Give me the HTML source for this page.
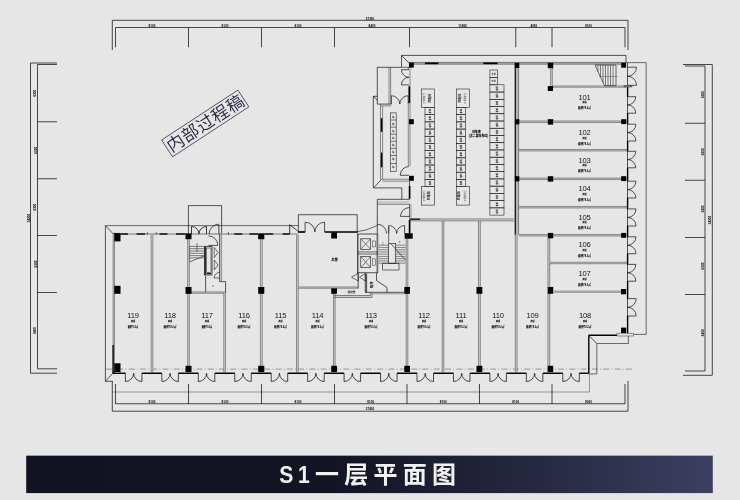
<!DOCTYPE html>
<html lang="zh-CN"><head><meta charset="utf-8"><title>S1一层平面图</title>
<style>
html,body{margin:0;padding:0;background:#e6e6e6;}
body{width:740px;height:500px;overflow:hidden;position:relative;font-family:"Liberation Sans","Noto Sans CJK SC",sans-serif;}
svg{position:absolute;left:0;top:0;display:block;will-change:transform;}
.title .lat{display:inline-block;transform:scaleX(0.88);transform-origin:50% 50%;margin:0 -0.9px;}
.title{position:absolute;left:0;top:455.5px;width:740px;height:37.5px;line-height:37.5px;text-align:center;color:#f2f2f2;font-weight:bold;font-size:24px;letter-spacing:5.2px;font-family:"Liberation Sans","Noto Sans CJK SC",sans-serif;white-space:nowrap;}
</style></head>
<body>
<svg width="740" height="500" viewBox="0 0 740 500">
<line x1="112.30" y1="20.30" x2="628.00" y2="20.30" stroke="#111" stroke-width="0.75" />
<line x1="115.50" y1="27.50" x2="625.00" y2="27.50" stroke="#111" stroke-width="0.75" />
<line x1="112.30" y1="20.30" x2="112.30" y2="50.00" stroke="#111" stroke-width="0.75" />
<line x1="628.00" y1="20.30" x2="628.00" y2="50.00" stroke="#111" stroke-width="0.75" />
<line x1="115.50" y1="27.50" x2="115.50" y2="47.30" stroke="#111" stroke-width="0.75" />
<line x1="188.50" y1="27.50" x2="188.50" y2="47.30" stroke="#111" stroke-width="0.75" />
<line x1="261.50" y1="27.50" x2="261.50" y2="47.30" stroke="#111" stroke-width="0.75" />
<line x1="334.50" y1="27.50" x2="334.50" y2="47.30" stroke="#111" stroke-width="0.75" />
<line x1="409.50" y1="27.50" x2="409.50" y2="47.30" stroke="#111" stroke-width="0.75" />
<line x1="515.75" y1="27.50" x2="515.75" y2="47.30" stroke="#111" stroke-width="0.75" />
<line x1="552.00" y1="27.50" x2="552.00" y2="47.30" stroke="#111" stroke-width="0.75" />
<line x1="625.00" y1="27.50" x2="625.00" y2="47.30" stroke="#111" stroke-width="0.75" />
<text x="152.00" y="27.00" font-size="3.9" text-anchor="middle" font-weight="bold" fill="#000" font-family='"Liberation Sans", "Noto Sans CJK SC", sans-serif' textLength="6.8" lengthAdjust="spacingAndGlyphs">8100</text>
<text x="225.00" y="27.00" font-size="3.9" text-anchor="middle" font-weight="bold" fill="#000" font-family='"Liberation Sans", "Noto Sans CJK SC", sans-serif' textLength="6.8" lengthAdjust="spacingAndGlyphs">8100</text>
<text x="298.00" y="27.00" font-size="3.9" text-anchor="middle" font-weight="bold" fill="#000" font-family='"Liberation Sans", "Noto Sans CJK SC", sans-serif' textLength="6.8" lengthAdjust="spacingAndGlyphs">8100</text>
<text x="372.00" y="27.00" font-size="3.9" text-anchor="middle" font-weight="bold" fill="#000" font-family='"Liberation Sans", "Noto Sans CJK SC", sans-serif' textLength="6.8" lengthAdjust="spacingAndGlyphs">8400</text>
<text x="462.62" y="27.00" font-size="3.9" text-anchor="middle" font-weight="bold" fill="#000" font-family='"Liberation Sans", "Noto Sans CJK SC", sans-serif' textLength="8.5" lengthAdjust="spacingAndGlyphs">11800</text>
<text x="533.88" y="27.00" font-size="3.9" text-anchor="middle" font-weight="bold" fill="#000" font-family='"Liberation Sans", "Noto Sans CJK SC", sans-serif' textLength="6.8" lengthAdjust="spacingAndGlyphs">4050</text>
<text x="588.50" y="27.00" font-size="3.9" text-anchor="middle" font-weight="bold" fill="#000" font-family='"Liberation Sans", "Noto Sans CJK SC", sans-serif' textLength="6.8" lengthAdjust="spacingAndGlyphs">8100</text>
<text x="370.00" y="19.70" font-size="3.9" text-anchor="middle" font-weight="bold" fill="#000" font-family='"Liberation Sans", "Noto Sans CJK SC", sans-serif' textLength="8.5" lengthAdjust="spacingAndGlyphs">57350</text>
<line x1="112.30" y1="392.00" x2="589.50" y2="392.00" stroke="#444" stroke-width="0.5" />
<line x1="589.50" y1="374.00" x2="589.50" y2="392.00" stroke="#444" stroke-width="0.5" />
<line x1="115.50" y1="403.75" x2="625.00" y2="403.75" stroke="#111" stroke-width="0.75" />
<line x1="112.30" y1="411.20" x2="628.00" y2="411.20" stroke="#111" stroke-width="0.75" />
<line x1="112.30" y1="381.00" x2="112.30" y2="411.20" stroke="#111" stroke-width="0.75" />
<line x1="628.00" y1="381.00" x2="628.00" y2="411.20" stroke="#111" stroke-width="0.75" />
<line x1="115.50" y1="384.00" x2="115.50" y2="404.00" stroke="#111" stroke-width="0.75" />
<line x1="188.50" y1="384.00" x2="188.50" y2="404.00" stroke="#111" stroke-width="0.75" />
<line x1="261.50" y1="384.00" x2="261.50" y2="404.00" stroke="#111" stroke-width="0.75" />
<line x1="334.50" y1="384.00" x2="334.50" y2="404.00" stroke="#111" stroke-width="0.75" />
<line x1="407.00" y1="384.00" x2="407.00" y2="404.00" stroke="#111" stroke-width="0.75" />
<line x1="479.50" y1="384.00" x2="479.50" y2="404.00" stroke="#111" stroke-width="0.75" />
<line x1="552.00" y1="384.00" x2="552.00" y2="404.00" stroke="#111" stroke-width="0.75" />
<line x1="625.00" y1="384.00" x2="625.00" y2="404.00" stroke="#111" stroke-width="0.75" />
<text x="152.00" y="402.80" font-size="3.9" text-anchor="middle" font-weight="bold" fill="#000" font-family='"Liberation Sans", "Noto Sans CJK SC", sans-serif' textLength="6.8" lengthAdjust="spacingAndGlyphs">8100</text>
<text x="225.00" y="402.80" font-size="3.9" text-anchor="middle" font-weight="bold" fill="#000" font-family='"Liberation Sans", "Noto Sans CJK SC", sans-serif' textLength="6.8" lengthAdjust="spacingAndGlyphs">8100</text>
<text x="298.00" y="402.80" font-size="3.9" text-anchor="middle" font-weight="bold" fill="#000" font-family='"Liberation Sans", "Noto Sans CJK SC", sans-serif' textLength="6.8" lengthAdjust="spacingAndGlyphs">8100</text>
<text x="370.75" y="402.80" font-size="3.9" text-anchor="middle" font-weight="bold" fill="#000" font-family='"Liberation Sans", "Noto Sans CJK SC", sans-serif' textLength="6.8" lengthAdjust="spacingAndGlyphs">8100</text>
<text x="443.25" y="402.80" font-size="3.9" text-anchor="middle" font-weight="bold" fill="#000" font-family='"Liberation Sans", "Noto Sans CJK SC", sans-serif' textLength="6.8" lengthAdjust="spacingAndGlyphs">8100</text>
<text x="515.75" y="402.80" font-size="3.9" text-anchor="middle" font-weight="bold" fill="#000" font-family='"Liberation Sans", "Noto Sans CJK SC", sans-serif' textLength="6.8" lengthAdjust="spacingAndGlyphs">8100</text>
<text x="588.50" y="402.80" font-size="3.9" text-anchor="middle" font-weight="bold" fill="#000" font-family='"Liberation Sans", "Noto Sans CJK SC", sans-serif' textLength="6.8" lengthAdjust="spacingAndGlyphs">8000</text>
<text x="370.00" y="410.30" font-size="3.9" text-anchor="middle" font-weight="bold" fill="#000" font-family='"Liberation Sans", "Noto Sans CJK SC", sans-serif' textLength="8.5" lengthAdjust="spacingAndGlyphs">57400</text>
<line x1="30.50" y1="63.00" x2="30.50" y2="373.20" stroke="#111" stroke-width="0.75" />
<line x1="37.50" y1="64.50" x2="37.50" y2="368.80" stroke="#111" stroke-width="0.75" />
<line x1="30.50" y1="63.00" x2="57.00" y2="63.00" stroke="#111" stroke-width="0.75" />
<line x1="30.50" y1="373.20" x2="57.00" y2="373.20" stroke="#111" stroke-width="0.75" />
<line x1="37.50" y1="64.50" x2="57.00" y2="64.50" stroke="#111" stroke-width="0.75" />
<line x1="37.50" y1="121.75" x2="57.00" y2="121.75" stroke="#111" stroke-width="0.75" />
<line x1="37.50" y1="178.75" x2="57.00" y2="178.75" stroke="#111" stroke-width="0.75" />
<line x1="37.50" y1="235.50" x2="57.00" y2="235.50" stroke="#111" stroke-width="0.75" />
<line x1="37.50" y1="292.50" x2="57.00" y2="292.50" stroke="#111" stroke-width="0.75" />
<line x1="37.50" y1="368.80" x2="57.00" y2="368.80" stroke="#111" stroke-width="0.75" />
<text x="36.50" y="93.12" font-size="3.9" text-anchor="middle" font-weight="bold" fill="#000" font-family='"Liberation Sans", "Noto Sans CJK SC", sans-serif' transform="rotate(-90 36.50 93.12)" textLength="6.8" lengthAdjust="spacingAndGlyphs">6300</text>
<text x="36.50" y="150.25" font-size="3.9" text-anchor="middle" font-weight="bold" fill="#000" font-family='"Liberation Sans", "Noto Sans CJK SC", sans-serif' transform="rotate(-90 36.50 150.25)" textLength="6.8" lengthAdjust="spacingAndGlyphs">6300</text>
<text x="36.50" y="207.12" font-size="3.9" text-anchor="middle" font-weight="bold" fill="#000" font-family='"Liberation Sans", "Noto Sans CJK SC", sans-serif' transform="rotate(-90 36.50 207.12)" textLength="6.8" lengthAdjust="spacingAndGlyphs">6300</text>
<text x="36.50" y="264.00" font-size="3.9" text-anchor="middle" font-weight="bold" fill="#000" font-family='"Liberation Sans", "Noto Sans CJK SC", sans-serif' transform="rotate(-90 36.50 264.00)" textLength="6.8" lengthAdjust="spacingAndGlyphs">6300</text>
<text x="36.50" y="330.65" font-size="3.9" text-anchor="middle" font-weight="bold" fill="#000" font-family='"Liberation Sans", "Noto Sans CJK SC", sans-serif' transform="rotate(-90 36.50 330.65)" textLength="6.8" lengthAdjust="spacingAndGlyphs">8400</text>
<text x="29.50" y="218.00" font-size="3.9" text-anchor="middle" font-weight="bold" fill="#000" font-family='"Liberation Sans", "Noto Sans CJK SC", sans-serif' transform="rotate(-90 29.50 218.00)" textLength="8.5" lengthAdjust="spacingAndGlyphs">34200</text>
<line x1="712.30" y1="64.50" x2="712.30" y2="375.30" stroke="#111" stroke-width="0.75" />
<line x1="705.00" y1="66.00" x2="705.00" y2="371.00" stroke="#111" stroke-width="0.75" />
<line x1="683.00" y1="64.50" x2="712.30" y2="64.50" stroke="#111" stroke-width="0.75" />
<line x1="683.00" y1="375.30" x2="712.30" y2="375.30" stroke="#111" stroke-width="0.75" />
<line x1="685.00" y1="66.00" x2="705.00" y2="66.00" stroke="#111" stroke-width="0.75" />
<line x1="685.00" y1="123.25" x2="705.00" y2="123.25" stroke="#111" stroke-width="0.75" />
<line x1="685.00" y1="180.25" x2="705.00" y2="180.25" stroke="#111" stroke-width="0.75" />
<line x1="685.00" y1="237.50" x2="705.00" y2="237.50" stroke="#111" stroke-width="0.75" />
<line x1="685.00" y1="294.50" x2="705.00" y2="294.50" stroke="#111" stroke-width="0.75" />
<line x1="685.00" y1="371.00" x2="705.00" y2="371.00" stroke="#111" stroke-width="0.75" />
<text x="704.00" y="94.62" font-size="3.9" text-anchor="middle" font-weight="bold" fill="#000" font-family='"Liberation Sans", "Noto Sans CJK SC", sans-serif' transform="rotate(-90 704.00 94.62)" textLength="6.8" lengthAdjust="spacingAndGlyphs">6300</text>
<text x="704.00" y="151.75" font-size="3.9" text-anchor="middle" font-weight="bold" fill="#000" font-family='"Liberation Sans", "Noto Sans CJK SC", sans-serif' transform="rotate(-90 704.00 151.75)" textLength="6.8" lengthAdjust="spacingAndGlyphs">6300</text>
<text x="704.00" y="208.88" font-size="3.9" text-anchor="middle" font-weight="bold" fill="#000" font-family='"Liberation Sans", "Noto Sans CJK SC", sans-serif' transform="rotate(-90 704.00 208.88)" textLength="6.8" lengthAdjust="spacingAndGlyphs">6300</text>
<text x="704.00" y="266.00" font-size="3.9" text-anchor="middle" font-weight="bold" fill="#000" font-family='"Liberation Sans", "Noto Sans CJK SC", sans-serif' transform="rotate(-90 704.00 266.00)" textLength="6.8" lengthAdjust="spacingAndGlyphs">6300</text>
<text x="704.00" y="332.75" font-size="3.9" text-anchor="middle" font-weight="bold" fill="#000" font-family='"Liberation Sans", "Noto Sans CJK SC", sans-serif' transform="rotate(-90 704.00 332.75)" textLength="6.8" lengthAdjust="spacingAndGlyphs">8400</text>
<text x="711.30" y="220.00" font-size="3.9" text-anchor="middle" font-weight="bold" fill="#000" font-family='"Liberation Sans", "Noto Sans CJK SC", sans-serif' transform="rotate(-90 711.30 220.00)" textLength="8.5" lengthAdjust="spacingAndGlyphs">34200</text>
<g transform="translate(205.25,123.45) rotate(-33.2)">
<rect x="-45.60" y="-10.00" width="91.20" height="20.00" fill="none" stroke="#2a2b48" stroke-width="0.7"/>
<text x="0.30" y="6.10" font-size="17.2" text-anchor="middle" font-weight="350" fill="#1f2040" font-family='"Liberation Sans", "Noto Sans CJK SC", sans-serif' letter-spacing="0.6" >内部过程稿</text>
</g>
<line x1="105.40" y1="225.60" x2="105.40" y2="381.30" stroke="#111" stroke-width="0.7" />
<line x1="105.40" y1="381.30" x2="112.50" y2="381.30" stroke="#111" stroke-width="0.7" />
<line x1="105.40" y1="381.30" x2="112.50" y2="373.50" stroke="#111" stroke-width="0.7" />
<line x1="105.40" y1="225.60" x2="298.40" y2="225.60" stroke="#333" stroke-width="0.7" />
<line x1="105.40" y1="225.60" x2="113.00" y2="233.70" stroke="#111" stroke-width="0.7" />
<path d="M188.40 233.70 L188.40 205.60 L221.60 205.60 L221.60 233.70" fill="none" stroke="#111" stroke-width="0.7"/>
<path d="M298.40 233.00 L298.40 214.70 L357.20 214.70 L357.20 233.00" fill="none" stroke="#111" stroke-width="0.7"/>
<line x1="113.00" y1="234.00" x2="298.00" y2="234.00" stroke="#9a9a9a" stroke-width="1.5" />
<line x1="120.30" y1="234.00" x2="128.00" y2="234.00" stroke="#000" stroke-width="1.35" />
<line x1="136.50" y1="234.00" x2="145.00" y2="234.00" stroke="#000" stroke-width="1.35" />
<line x1="159.50" y1="234.00" x2="167.50" y2="234.00" stroke="#000" stroke-width="1.35" />
<line x1="176.00" y1="234.00" x2="185.50" y2="234.00" stroke="#000" stroke-width="1.35" />
<line x1="234.30" y1="234.00" x2="242.40" y2="234.00" stroke="#000" stroke-width="1.35" />
<line x1="249.40" y1="234.00" x2="258.00" y2="234.00" stroke="#000" stroke-width="1.35" />
<line x1="264.30" y1="234.00" x2="273.20" y2="234.00" stroke="#000" stroke-width="1.35" />
<line x1="282.50" y1="234.00" x2="289.70" y2="234.00" stroke="#000" stroke-width="1.35" />
<line x1="147.30" y1="232.30" x2="147.30" y2="234.50" stroke="#111" stroke-width="0.7" />
<line x1="156.20" y1="232.30" x2="156.20" y2="234.50" stroke="#111" stroke-width="0.7" />
<line x1="228.30" y1="232.30" x2="228.30" y2="234.50" stroke="#111" stroke-width="0.7" />
<line x1="113.00" y1="233.40" x2="120.00" y2="233.40" stroke="#111" stroke-width="0.8" />
<line x1="298.40" y1="232.00" x2="305.10" y2="232.00" stroke="#000" stroke-width="1.7" />
<line x1="324.60" y1="232.00" x2="357.40" y2="232.00" stroke="#000" stroke-width="1.7" />
<line x1="305.10" y1="232.00" x2="305.10" y2="222.25" stroke="#111" stroke-width="0.7" />
<line x1="324.60" y1="232.00" x2="324.60" y2="222.25" stroke="#111" stroke-width="0.7" />
<path d="M305.10 222.25 A9.75 9.75 0 0 1 314.85 232.00" fill="none" stroke="#111" stroke-width="0.7"/>
<path d="M324.60 222.25 A9.75 9.75 0 0 0 314.85 232.00" fill="none" stroke="#111" stroke-width="0.7"/>
<line x1="289.70" y1="224.70" x2="289.70" y2="234.00" stroke="#111" stroke-width="0.8" />
<line x1="289.70" y1="224.70" x2="298.40" y2="231.50" stroke="#111" stroke-width="0.8" />
<line x1="191.50" y1="234.00" x2="191.50" y2="226.50" stroke="#111" stroke-width="0.8" />
<line x1="206.50" y1="234.00" x2="206.50" y2="226.50" stroke="#111" stroke-width="0.8" />
<path d="M191.50 226.50 A7.50 7.50 0 0 1 199.00 234.00" fill="none" stroke="#111" stroke-width="0.8"/>
<path d="M206.50 226.50 A7.50 7.50 0 0 0 199.00 234.00" fill="none" stroke="#111" stroke-width="0.8"/>
<line x1="218.90" y1="224.50" x2="218.90" y2="234.00" stroke="#111" stroke-width="0.8" />
<path d="M218.90 224.20 A9.80 9.80 0 0 0 209.10 234.00" fill="none" stroke="#111" stroke-width="0.7"/>
<line x1="208.30" y1="245.40" x2="217.80" y2="245.40" stroke="#111" stroke-width="0.7" />
<path d="M208.50 235.90 A9.30 9.30 0 0 1 217.80 245.20" fill="none" stroke="#111" stroke-width="0.7"/>
<line x1="189.60" y1="246.40" x2="204.20" y2="246.40" stroke="#111" stroke-width="0.5" />
<line x1="189.60" y1="248.70" x2="204.20" y2="248.70" stroke="#111" stroke-width="0.5" />
<line x1="189.60" y1="251.00" x2="204.20" y2="251.00" stroke="#111" stroke-width="0.5" />
<line x1="189.60" y1="253.30" x2="204.20" y2="253.30" stroke="#111" stroke-width="0.5" />
<line x1="189.60" y1="255.60" x2="204.20" y2="255.60" stroke="#111" stroke-width="0.5" />
<line x1="189.60" y1="257.90" x2="204.20" y2="257.90" stroke="#111" stroke-width="0.5" />
<line x1="189.60" y1="262.00" x2="204.20" y2="255.80" stroke="#111" stroke-width="0.6" />
<line x1="189.60" y1="246.00" x2="189.60" y2="262.00" stroke="#111" stroke-width="0.5" />
<line x1="197.00" y1="243.00" x2="197.00" y2="252.00" stroke="#111" stroke-width="0.5" />
<rect x="204.60" y="246.40" width="7.40" height="28.60" fill="none" stroke="#111" stroke-width="0.7"/>
<line x1="205.20" y1="246.40" x2="205.20" y2="275.00" stroke="#111" stroke-width="1.3" />
<rect x="206.60" y="248.00" width="4.40" height="24.50" fill="none" stroke="#111" stroke-width="0.5"/>
<line x1="206.60" y1="273.60" x2="211.00" y2="273.60" stroke="#111" stroke-width="1.2" />
<path d="M214.20 247.50 L218.00 252.50 L214.20 257.50" fill="none" stroke="#111" stroke-width="0.6"/>
<line x1="214.20" y1="247.50" x2="214.20" y2="257.50" stroke="#111" stroke-width="0.5" />
<path d="M214.20 260.00 L218.00 265.00 L214.20 270.00" fill="none" stroke="#111" stroke-width="0.6"/>
<line x1="214.20" y1="260.00" x2="214.20" y2="270.00" stroke="#111" stroke-width="0.5" />
<path d="M214.10 278.00 A5.50 5.50 0 0 1 219.60 272.50" fill="none" stroke="#111" stroke-width="0.6"/>
<line x1="214.10" y1="278.00" x2="219.60" y2="278.00" stroke="#111" stroke-width="0.6" />
<path d="M219.60 234.00 L219.60 281.60 L225.60 281.60 L225.60 293.00" fill="none" stroke="#111" stroke-width="0.7"/>
<line x1="221.60" y1="234.00" x2="221.60" y2="281.00" stroke="#444" stroke-width="0.6" />
<line x1="220.60" y1="234.50" x2="220.60" y2="281.00" stroke="#bdbdbd" stroke-width="1.2" />
<path d="M205.60 276.00 L205.60 292.00" fill="none" stroke="#111" stroke-width="0.7"/>
<circle cx="213" cy="286" r="0.6" fill="#111"/>
<line x1="188.50" y1="292.60" x2="225.60" y2="292.60" stroke="#cdcdcd" stroke-width="1.36" />
<line x1="188.50" y1="291.92" x2="225.60" y2="291.92" stroke="#3a3a3a" stroke-width="0.5" />
<line x1="188.50" y1="293.28" x2="225.60" y2="293.28" stroke="#3a3a3a" stroke-width="0.5" />
<line x1="113.80" y1="234.00" x2="113.80" y2="373.00" stroke="#cdcdcd" stroke-width="1.36" />
<line x1="113.12" y1="234.00" x2="113.12" y2="373.00" stroke="#3a3a3a" stroke-width="0.5" />
<line x1="114.48" y1="234.00" x2="114.48" y2="373.00" stroke="#3a3a3a" stroke-width="0.5" />
<line x1="113.10" y1="345.00" x2="113.10" y2="373.00" stroke="#000" stroke-width="1.3" />
<line x1="106.00" y1="369.10" x2="633.50" y2="369.10" stroke="#959595" stroke-width="1.0" stroke-dasharray="6 2.2 0.9 2.2"/>
<line x1="152.00" y1="235.00" x2="152.00" y2="372.50" stroke="#a4a4a4" stroke-width="3.0" />
<line x1="188.50" y1="239.00" x2="188.50" y2="372.50" stroke="#cdcdcd" stroke-width="1.7" />
<line x1="187.65" y1="239.00" x2="187.65" y2="372.50" stroke="#3a3a3a" stroke-width="0.5" />
<line x1="189.35" y1="239.00" x2="189.35" y2="372.50" stroke="#3a3a3a" stroke-width="0.5" />
<line x1="224.60" y1="293.00" x2="224.60" y2="372.50" stroke="#cdcdcd" stroke-width="1.7" />
<line x1="223.75" y1="293.00" x2="223.75" y2="372.50" stroke="#3a3a3a" stroke-width="0.5" />
<line x1="225.45" y1="293.00" x2="225.45" y2="372.50" stroke="#3a3a3a" stroke-width="0.5" />
<line x1="261.30" y1="239.00" x2="261.30" y2="372.50" stroke="#cdcdcd" stroke-width="1.87" />
<line x1="260.37" y1="239.00" x2="260.37" y2="372.50" stroke="#3a3a3a" stroke-width="0.5" />
<line x1="262.24" y1="239.00" x2="262.24" y2="372.50" stroke="#3a3a3a" stroke-width="0.5" />
<line x1="297.40" y1="235.00" x2="297.40" y2="372.50" stroke="#cdcdcd" stroke-width="1.7" />
<line x1="296.55" y1="235.00" x2="296.55" y2="372.50" stroke="#3a3a3a" stroke-width="0.5" />
<line x1="298.25" y1="235.00" x2="298.25" y2="372.50" stroke="#3a3a3a" stroke-width="0.5" />
<line x1="334.30" y1="293.50" x2="334.30" y2="372.50" stroke="#cdcdcd" stroke-width="1.7" />
<line x1="333.45" y1="293.50" x2="333.45" y2="372.50" stroke="#3a3a3a" stroke-width="0.5" />
<line x1="335.15" y1="293.50" x2="335.15" y2="372.50" stroke="#3a3a3a" stroke-width="0.5" />
<line x1="407.00" y1="239.00" x2="407.00" y2="372.50" stroke="#cdcdcd" stroke-width="1.7" />
<line x1="406.15" y1="239.00" x2="406.15" y2="372.50" stroke="#3a3a3a" stroke-width="0.5" />
<line x1="407.85" y1="239.00" x2="407.85" y2="372.50" stroke="#3a3a3a" stroke-width="0.5" />
<line x1="443.00" y1="220.00" x2="443.00" y2="372.50" stroke="#cdcdcd" stroke-width="1.7" />
<line x1="442.15" y1="220.00" x2="442.15" y2="372.50" stroke="#3a3a3a" stroke-width="0.5" />
<line x1="443.85" y1="220.00" x2="443.85" y2="372.50" stroke="#3a3a3a" stroke-width="0.5" />
<line x1="479.40" y1="220.00" x2="479.40" y2="372.50" stroke="#cdcdcd" stroke-width="1.87" />
<line x1="478.46" y1="220.00" x2="478.46" y2="372.50" stroke="#3a3a3a" stroke-width="0.5" />
<line x1="480.33" y1="220.00" x2="480.33" y2="372.50" stroke="#3a3a3a" stroke-width="0.5" />
<line x1="516.20" y1="235.00" x2="516.20" y2="372.50" stroke="#cdcdcd" stroke-width="1.87" />
<line x1="515.27" y1="235.00" x2="515.27" y2="372.50" stroke="#3a3a3a" stroke-width="0.5" />
<line x1="517.13" y1="235.00" x2="517.13" y2="372.50" stroke="#3a3a3a" stroke-width="0.5" />
<line x1="548.80" y1="238.00" x2="548.80" y2="372.50" stroke="#cdcdcd" stroke-width="1.87" />
<line x1="547.87" y1="238.00" x2="547.87" y2="372.50" stroke="#3a3a3a" stroke-width="0.5" />
<line x1="549.73" y1="238.00" x2="549.73" y2="372.50" stroke="#3a3a3a" stroke-width="0.5" />
<line x1="112.50" y1="373.25" x2="125.40" y2="373.25" stroke="#000" stroke-width="1.45" />
<line x1="125.40" y1="373.25" x2="125.40" y2="381.50" stroke="#111" stroke-width="0.75" />
<line x1="141.90" y1="373.25" x2="141.90" y2="381.50" stroke="#111" stroke-width="0.75" />
<path d="M125.40 381.50 A8.25 8.25 0 0 0 133.65 373.25" fill="none" stroke="#111" stroke-width="0.75"/>
<path d="M141.90 381.50 A8.25 8.25 0 0 1 133.65 373.25" fill="none" stroke="#111" stroke-width="0.75"/>
<line x1="141.90" y1="373.25" x2="161.85" y2="373.25" stroke="#000" stroke-width="1.45" />
<line x1="161.85" y1="373.25" x2="161.85" y2="381.50" stroke="#111" stroke-width="0.75" />
<line x1="178.35" y1="373.25" x2="178.35" y2="381.50" stroke="#111" stroke-width="0.75" />
<path d="M161.85 381.50 A8.25 8.25 0 0 0 170.10 373.25" fill="none" stroke="#111" stroke-width="0.75"/>
<path d="M178.35 381.50 A8.25 8.25 0 0 1 170.10 373.25" fill="none" stroke="#111" stroke-width="0.75"/>
<line x1="178.35" y1="373.25" x2="198.30" y2="373.25" stroke="#000" stroke-width="1.45" />
<line x1="198.30" y1="373.25" x2="198.30" y2="381.50" stroke="#111" stroke-width="0.75" />
<line x1="214.80" y1="373.25" x2="214.80" y2="381.50" stroke="#111" stroke-width="0.75" />
<path d="M198.30 381.50 A8.25 8.25 0 0 0 206.55 373.25" fill="none" stroke="#111" stroke-width="0.75"/>
<path d="M214.80 381.50 A8.25 8.25 0 0 1 206.55 373.25" fill="none" stroke="#111" stroke-width="0.75"/>
<line x1="214.80" y1="373.25" x2="234.75" y2="373.25" stroke="#000" stroke-width="1.45" />
<line x1="234.75" y1="373.25" x2="234.75" y2="381.50" stroke="#111" stroke-width="0.75" />
<line x1="251.25" y1="373.25" x2="251.25" y2="381.50" stroke="#111" stroke-width="0.75" />
<path d="M234.75 381.50 A8.25 8.25 0 0 0 243.00 373.25" fill="none" stroke="#111" stroke-width="0.75"/>
<path d="M251.25 381.50 A8.25 8.25 0 0 1 243.00 373.25" fill="none" stroke="#111" stroke-width="0.75"/>
<line x1="251.25" y1="373.25" x2="271.20" y2="373.25" stroke="#000" stroke-width="1.45" />
<line x1="271.20" y1="373.25" x2="271.20" y2="381.50" stroke="#111" stroke-width="0.75" />
<line x1="287.70" y1="373.25" x2="287.70" y2="381.50" stroke="#111" stroke-width="0.75" />
<path d="M271.20 381.50 A8.25 8.25 0 0 0 279.45 373.25" fill="none" stroke="#111" stroke-width="0.75"/>
<path d="M287.70 381.50 A8.25 8.25 0 0 1 279.45 373.25" fill="none" stroke="#111" stroke-width="0.75"/>
<line x1="287.70" y1="373.25" x2="307.65" y2="373.25" stroke="#000" stroke-width="1.45" />
<line x1="307.65" y1="373.25" x2="307.65" y2="381.50" stroke="#111" stroke-width="0.75" />
<line x1="324.15" y1="373.25" x2="324.15" y2="381.50" stroke="#111" stroke-width="0.75" />
<path d="M307.65 381.50 A8.25 8.25 0 0 0 315.90 373.25" fill="none" stroke="#111" stroke-width="0.75"/>
<path d="M324.15 381.50 A8.25 8.25 0 0 1 315.90 373.25" fill="none" stroke="#111" stroke-width="0.75"/>
<line x1="324.15" y1="373.25" x2="344.10" y2="373.25" stroke="#000" stroke-width="1.45" />
<line x1="344.10" y1="373.25" x2="344.10" y2="381.50" stroke="#111" stroke-width="0.75" />
<line x1="360.60" y1="373.25" x2="360.60" y2="381.50" stroke="#111" stroke-width="0.75" />
<path d="M344.10 381.50 A8.25 8.25 0 0 0 352.35 373.25" fill="none" stroke="#111" stroke-width="0.75"/>
<path d="M360.60 381.50 A8.25 8.25 0 0 1 352.35 373.25" fill="none" stroke="#111" stroke-width="0.75"/>
<line x1="360.60" y1="373.25" x2="380.55" y2="373.25" stroke="#000" stroke-width="1.45" />
<line x1="380.55" y1="373.25" x2="380.55" y2="381.50" stroke="#111" stroke-width="0.75" />
<line x1="397.05" y1="373.25" x2="397.05" y2="381.50" stroke="#111" stroke-width="0.75" />
<path d="M380.55 381.50 A8.25 8.25 0 0 0 388.80 373.25" fill="none" stroke="#111" stroke-width="0.75"/>
<path d="M397.05 381.50 A8.25 8.25 0 0 1 388.80 373.25" fill="none" stroke="#111" stroke-width="0.75"/>
<line x1="397.05" y1="373.25" x2="417.00" y2="373.25" stroke="#000" stroke-width="1.45" />
<line x1="417.00" y1="373.25" x2="417.00" y2="381.50" stroke="#111" stroke-width="0.75" />
<line x1="433.50" y1="373.25" x2="433.50" y2="381.50" stroke="#111" stroke-width="0.75" />
<path d="M417.00 381.50 A8.25 8.25 0 0 0 425.25 373.25" fill="none" stroke="#111" stroke-width="0.75"/>
<path d="M433.50 381.50 A8.25 8.25 0 0 1 425.25 373.25" fill="none" stroke="#111" stroke-width="0.75"/>
<line x1="433.50" y1="373.25" x2="453.45" y2="373.25" stroke="#000" stroke-width="1.45" />
<line x1="453.45" y1="373.25" x2="453.45" y2="381.50" stroke="#111" stroke-width="0.75" />
<line x1="469.95" y1="373.25" x2="469.95" y2="381.50" stroke="#111" stroke-width="0.75" />
<path d="M453.45 381.50 A8.25 8.25 0 0 0 461.70 373.25" fill="none" stroke="#111" stroke-width="0.75"/>
<path d="M469.95 381.50 A8.25 8.25 0 0 1 461.70 373.25" fill="none" stroke="#111" stroke-width="0.75"/>
<line x1="469.95" y1="373.25" x2="489.90" y2="373.25" stroke="#000" stroke-width="1.45" />
<line x1="489.90" y1="373.25" x2="489.90" y2="381.50" stroke="#111" stroke-width="0.75" />
<line x1="506.40" y1="373.25" x2="506.40" y2="381.50" stroke="#111" stroke-width="0.75" />
<path d="M489.90 381.50 A8.25 8.25 0 0 0 498.15 373.25" fill="none" stroke="#111" stroke-width="0.75"/>
<path d="M506.40 381.50 A8.25 8.25 0 0 1 498.15 373.25" fill="none" stroke="#111" stroke-width="0.75"/>
<line x1="506.40" y1="373.25" x2="526.35" y2="373.25" stroke="#000" stroke-width="1.45" />
<line x1="526.35" y1="373.25" x2="526.35" y2="381.50" stroke="#111" stroke-width="0.75" />
<line x1="542.85" y1="373.25" x2="542.85" y2="381.50" stroke="#111" stroke-width="0.75" />
<path d="M526.35 381.50 A8.25 8.25 0 0 0 534.60 373.25" fill="none" stroke="#111" stroke-width="0.75"/>
<path d="M542.85 381.50 A8.25 8.25 0 0 1 534.60 373.25" fill="none" stroke="#111" stroke-width="0.75"/>
<line x1="542.85" y1="373.25" x2="562.80" y2="373.25" stroke="#000" stroke-width="1.45" />
<line x1="562.80" y1="373.25" x2="562.80" y2="381.50" stroke="#111" stroke-width="0.75" />
<line x1="579.30" y1="373.25" x2="579.30" y2="381.50" stroke="#111" stroke-width="0.75" />
<path d="M562.80 381.50 A8.25 8.25 0 0 0 571.05 373.25" fill="none" stroke="#111" stroke-width="0.75"/>
<path d="M579.30 381.50 A8.25 8.25 0 0 1 571.05 373.25" fill="none" stroke="#111" stroke-width="0.75"/>
<line x1="579.30" y1="373.25" x2="588.60" y2="373.25" stroke="#000" stroke-width="1.45" />
<rect x="114.30" y="363.30" width="6.20" height="8.70" fill="#000"/>
<rect x="185.50" y="365.80" width="6.00" height="6.20" fill="#000"/>
<rect x="258.20" y="365.80" width="6.10" height="6.20" fill="#000"/>
<rect x="331.20" y="365.80" width="5.80" height="6.20" fill="#000"/>
<rect x="404.30" y="365.80" width="5.70" height="6.20" fill="#000"/>
<rect x="476.50" y="365.80" width="5.80" height="6.20" fill="#000"/>
<rect x="547.80" y="365.80" width="5.40" height="6.20" fill="#000"/>
<rect x="114.30" y="285.80" width="6.20" height="8.00" fill="#000"/>
<rect x="185.50" y="287.00" width="6.00" height="6.80" fill="#000"/>
<rect x="258.20" y="287.00" width="6.10" height="6.80" fill="#000"/>
<rect x="331.20" y="287.00" width="5.80" height="6.80" fill="#000"/>
<rect x="404.30" y="287.00" width="5.70" height="6.80" fill="#000"/>
<rect x="476.50" y="287.00" width="5.80" height="6.80" fill="#000"/>
<rect x="547.80" y="287.00" width="5.40" height="6.80" fill="#000"/>
<rect x="114.30" y="233.40" width="6.20" height="8.00" fill="#000"/>
<rect x="185.50" y="233.40" width="6.00" height="5.80" fill="#000"/>
<rect x="258.20" y="233.40" width="6.10" height="5.80" fill="#000"/>
<rect x="331.20" y="232.40" width="5.80" height="6.10" fill="#000"/>
<rect x="404.60" y="233.20" width="8.10" height="5.50" fill="#000"/>
<line x1="401.50" y1="55.40" x2="626.00" y2="55.40" stroke="#111" stroke-width="0.7" />
<line x1="626.00" y1="55.40" x2="626.00" y2="63.00" stroke="#111" stroke-width="0.7" />
<line x1="401.50" y1="55.40" x2="409.00" y2="63.00" stroke="#111" stroke-width="0.7" />
<line x1="401.50" y1="55.40" x2="401.50" y2="67.30" stroke="#111" stroke-width="0.7" />
<line x1="409.00" y1="63.30" x2="626.00" y2="63.30" stroke="#a8a8a8" stroke-width="2.0" />
<line x1="409.00" y1="62.40" x2="626.00" y2="62.40" stroke="#333" stroke-width="0.5" />
<line x1="409.00" y1="64.30" x2="626.00" y2="64.30" stroke="#444" stroke-width="0.5" />
<line x1="424.90" y1="63.30" x2="438.50" y2="63.30" stroke="#000" stroke-width="1.7" />
<line x1="483.30" y1="63.30" x2="497.50" y2="63.30" stroke="#000" stroke-width="1.7" />
<path d="M626.00 62.60 L646.20 62.60 L646.20 334.40 L627.50 334.40" fill="none" stroke="#333" stroke-width="0.7"/>
<line x1="627.50" y1="63.00" x2="627.50" y2="335.00" stroke="#111" stroke-width="0.7" />
<line x1="517.30" y1="63.00" x2="517.30" y2="234.80" stroke="#b0b0b0" stroke-width="2.4" />
<line x1="515.30" y1="63.00" x2="515.30" y2="234.80" stroke="#111" stroke-width="1.3" />
<line x1="518.60" y1="63.00" x2="518.60" y2="234.80" stroke="#333" stroke-width="0.5" />
<line x1="409.50" y1="219.90" x2="515.00" y2="219.90" stroke="#cdcdcd" stroke-width="2.04" />
<line x1="409.50" y1="218.88" x2="515.00" y2="218.88" stroke="#3a3a3a" stroke-width="0.5" />
<line x1="409.50" y1="220.92" x2="515.00" y2="220.92" stroke="#3a3a3a" stroke-width="0.5" />
<line x1="409.50" y1="219.20" x2="420.00" y2="219.20" stroke="#111" stroke-width="1.3" />
<line x1="408.30" y1="104.00" x2="408.30" y2="166.00" stroke="#333" stroke-width="0.55" />
<line x1="410.00" y1="67.00" x2="410.00" y2="166.00" stroke="#333" stroke-width="0.55" />
<line x1="408.30" y1="67.00" x2="408.30" y2="69.50" stroke="#333" stroke-width="0.55" />
<line x1="409.30" y1="86.20" x2="409.30" y2="103.00" stroke="#000" stroke-width="1.7" />
<line x1="409.50" y1="181.00" x2="409.50" y2="186.00" stroke="#111" stroke-width="0.7" />
<line x1="409.60" y1="186.00" x2="409.60" y2="198.80" stroke="#000" stroke-width="1.7" />
<line x1="409.50" y1="204.00" x2="409.50" y2="218.00" stroke="#111" stroke-width="0.6" />
<line x1="411.00" y1="204.00" x2="411.00" y2="218.00" stroke="#444" stroke-width="0.5" />
<line x1="409.60" y1="220.00" x2="409.60" y2="233.20" stroke="#000" stroke-width="1.7" />
<line x1="551.50" y1="68.00" x2="551.50" y2="86.00" stroke="#cdcdcd" stroke-width="1.7" />
<line x1="550.65" y1="68.00" x2="550.65" y2="86.00" stroke="#3a3a3a" stroke-width="0.5" />
<line x1="552.35" y1="68.00" x2="552.35" y2="86.00" stroke="#3a3a3a" stroke-width="0.5" />
<line x1="553.00" y1="86.70" x2="626.00" y2="86.70" stroke="#a4a4a4" stroke-width="2.7" />
<line x1="519.00" y1="121.70" x2="627.00" y2="121.70" stroke="#cdcdcd" stroke-width="1.53" />
<line x1="519.00" y1="120.94" x2="627.00" y2="120.94" stroke="#3a3a3a" stroke-width="0.5" />
<line x1="519.00" y1="122.47" x2="627.00" y2="122.47" stroke="#3a3a3a" stroke-width="0.5" />
<line x1="519.00" y1="150.20" x2="627.00" y2="150.20" stroke="#cdcdcd" stroke-width="1.53" />
<line x1="519.00" y1="149.44" x2="627.00" y2="149.44" stroke="#3a3a3a" stroke-width="0.5" />
<line x1="519.00" y1="150.96" x2="627.00" y2="150.96" stroke="#3a3a3a" stroke-width="0.5" />
<line x1="519.00" y1="178.80" x2="627.00" y2="178.80" stroke="#cdcdcd" stroke-width="1.53" />
<line x1="519.00" y1="178.04" x2="627.00" y2="178.04" stroke="#3a3a3a" stroke-width="0.5" />
<line x1="519.00" y1="179.56" x2="627.00" y2="179.56" stroke="#3a3a3a" stroke-width="0.5" />
<line x1="519.00" y1="207.20" x2="627.00" y2="207.20" stroke="#cdcdcd" stroke-width="1.53" />
<line x1="519.00" y1="206.44" x2="627.00" y2="206.44" stroke="#3a3a3a" stroke-width="0.5" />
<line x1="519.00" y1="207.96" x2="627.00" y2="207.96" stroke="#3a3a3a" stroke-width="0.5" />
<line x1="519.00" y1="235.30" x2="627.00" y2="235.30" stroke="#cdcdcd" stroke-width="1.53" />
<line x1="519.00" y1="234.54" x2="627.00" y2="234.54" stroke="#3a3a3a" stroke-width="0.5" />
<line x1="519.00" y1="236.06" x2="627.00" y2="236.06" stroke="#3a3a3a" stroke-width="0.5" />
<line x1="550.00" y1="263.00" x2="627.00" y2="263.00" stroke="#cdcdcd" stroke-width="1.53" />
<line x1="550.00" y1="262.24" x2="627.00" y2="262.24" stroke="#3a3a3a" stroke-width="0.5" />
<line x1="550.00" y1="263.76" x2="627.00" y2="263.76" stroke="#3a3a3a" stroke-width="0.5" />
<line x1="553.00" y1="291.80" x2="621.00" y2="291.80" stroke="#a4a4a4" stroke-width="2.4" />
<rect x="409.00" y="62.60" width="4.80" height="5.00" fill="#000"/>
<rect x="409.00" y="119.20" width="4.80" height="5.00" fill="#000"/>
<rect x="409.00" y="175.80" width="4.80" height="5.00" fill="#000"/>
<rect x="514.90" y="62.80" width="4.40" height="5.20" fill="#000"/>
<rect x="547.80" y="62.80" width="5.40" height="5.40" fill="#000"/>
<rect x="621.20" y="62.80" width="4.90" height="4.90" fill="#000"/>
<rect x="514.90" y="119.20" width="4.40" height="5.20" fill="#000"/>
<rect x="547.80" y="119.20" width="5.40" height="5.40" fill="#000"/>
<rect x="621.20" y="119.20" width="4.90" height="4.90" fill="#000"/>
<rect x="514.90" y="176.20" width="4.40" height="5.20" fill="#000"/>
<rect x="547.80" y="176.20" width="5.40" height="5.40" fill="#000"/>
<rect x="621.20" y="176.20" width="4.90" height="4.90" fill="#000"/>
<rect x="547.80" y="232.90" width="5.40" height="5.40" fill="#000"/>
<rect x="621.20" y="232.90" width="4.90" height="4.90" fill="#000"/>
<rect x="547.80" y="86.00" width="5.20" height="5.00" fill="#000"/>
<rect x="621.00" y="289.00" width="5.20" height="5.30" fill="#000"/>
<rect x="621.00" y="327.60" width="5.20" height="5.40" fill="#000"/>
<line x1="627.50" y1="67.20" x2="636.55" y2="67.20" stroke="#111" stroke-width="0.7" />
<line x1="627.50" y1="85.30" x2="636.55" y2="85.30" stroke="#111" stroke-width="0.7" />
<path d="M636.55 67.20 A9.05 9.05 0 0 1 627.50 76.25" fill="none" stroke="#111" stroke-width="0.7"/>
<path d="M636.55 85.30 A9.05 9.05 0 0 0 627.50 76.25" fill="none" stroke="#111" stroke-width="0.7"/>
<line x1="627.50" y1="96.70" x2="635.75" y2="96.70" stroke="#111" stroke-width="0.7" />
<line x1="627.50" y1="113.20" x2="635.75" y2="113.20" stroke="#111" stroke-width="0.7" />
<path d="M635.75 96.70 A8.25 8.25 0 0 1 627.50 104.95" fill="none" stroke="#111" stroke-width="0.7"/>
<path d="M635.75 113.20 A8.25 8.25 0 0 0 627.50 104.95" fill="none" stroke="#111" stroke-width="0.7"/>
<line x1="627.50" y1="124.20" x2="635.90" y2="124.20" stroke="#111" stroke-width="0.7" />
<line x1="627.50" y1="141.00" x2="635.90" y2="141.00" stroke="#111" stroke-width="0.7" />
<path d="M635.90 124.20 A8.40 8.40 0 0 1 627.50 132.60" fill="none" stroke="#111" stroke-width="0.7"/>
<path d="M635.90 141.00 A8.40 8.40 0 0 0 627.50 132.60" fill="none" stroke="#111" stroke-width="0.7"/>
<line x1="627.50" y1="151.30" x2="635.75" y2="151.30" stroke="#111" stroke-width="0.7" />
<line x1="627.50" y1="167.80" x2="635.75" y2="167.80" stroke="#111" stroke-width="0.7" />
<path d="M635.75 151.30 A8.25 8.25 0 0 1 627.50 159.55" fill="none" stroke="#111" stroke-width="0.7"/>
<path d="M635.75 167.80 A8.25 8.25 0 0 0 627.50 159.55" fill="none" stroke="#111" stroke-width="0.7"/>
<line x1="627.50" y1="181.20" x2="635.90" y2="181.20" stroke="#111" stroke-width="0.7" />
<line x1="627.50" y1="198.00" x2="635.90" y2="198.00" stroke="#111" stroke-width="0.7" />
<path d="M635.90 181.20 A8.40 8.40 0 0 1 627.50 189.60" fill="none" stroke="#111" stroke-width="0.7"/>
<path d="M635.90 198.00 A8.40 8.40 0 0 0 627.50 189.60" fill="none" stroke="#111" stroke-width="0.7"/>
<line x1="627.50" y1="208.90" x2="636.05" y2="208.90" stroke="#111" stroke-width="0.7" />
<line x1="627.50" y1="226.00" x2="636.05" y2="226.00" stroke="#111" stroke-width="0.7" />
<path d="M636.05 208.90 A8.55 8.55 0 0 1 627.50 217.45" fill="none" stroke="#111" stroke-width="0.7"/>
<path d="M636.05 226.00 A8.55 8.55 0 0 0 627.50 217.45" fill="none" stroke="#111" stroke-width="0.7"/>
<line x1="627.50" y1="236.80" x2="635.95" y2="236.80" stroke="#111" stroke-width="0.7" />
<line x1="627.50" y1="253.70" x2="635.95" y2="253.70" stroke="#111" stroke-width="0.7" />
<path d="M635.95 236.80 A8.45 8.45 0 0 1 627.50 245.25" fill="none" stroke="#111" stroke-width="0.7"/>
<path d="M635.95 253.70 A8.45 8.45 0 0 0 627.50 245.25" fill="none" stroke="#111" stroke-width="0.7"/>
<line x1="627.50" y1="264.40" x2="635.90" y2="264.40" stroke="#111" stroke-width="0.7" />
<line x1="627.50" y1="281.20" x2="635.90" y2="281.20" stroke="#111" stroke-width="0.7" />
<path d="M635.90 264.40 A8.40 8.40 0 0 1 627.50 272.80" fill="none" stroke="#111" stroke-width="0.7"/>
<path d="M635.90 281.20 A8.40 8.40 0 0 0 627.50 272.80" fill="none" stroke="#111" stroke-width="0.7"/>
<line x1="627.50" y1="298.60" x2="636.20" y2="298.60" stroke="#111" stroke-width="0.7" />
<line x1="627.50" y1="316.00" x2="636.20" y2="316.00" stroke="#111" stroke-width="0.7" />
<path d="M636.20 298.60 A8.70 8.70 0 0 1 627.50 307.30" fill="none" stroke="#111" stroke-width="0.7"/>
<path d="M636.20 316.00 A8.70 8.70 0 0 0 627.50 307.30" fill="none" stroke="#111" stroke-width="0.7"/>
<line x1="627.60" y1="85.30" x2="627.60" y2="96.70" stroke="#000" stroke-width="1.4" />
<line x1="627.60" y1="113.20" x2="627.60" y2="124.20" stroke="#000" stroke-width="1.4" />
<line x1="627.60" y1="141.00" x2="627.60" y2="151.30" stroke="#000" stroke-width="1.4" />
<line x1="627.60" y1="167.80" x2="627.60" y2="181.20" stroke="#000" stroke-width="1.4" />
<line x1="627.60" y1="198.00" x2="627.60" y2="208.90" stroke="#000" stroke-width="1.4" />
<line x1="627.60" y1="226.00" x2="627.60" y2="236.80" stroke="#000" stroke-width="1.4" />
<line x1="627.60" y1="253.70" x2="627.60" y2="264.40" stroke="#000" stroke-width="1.4" />
<line x1="627.60" y1="281.20" x2="627.60" y2="298.60" stroke="#000" stroke-width="1.4" />
<line x1="627.60" y1="316.00" x2="627.60" y2="335.00" stroke="#000" stroke-width="1.4" />
<rect x="624.00" y="85.60" width="8.00" height="1.40" fill="#888" stroke="#333" stroke-width="0.5"/>
<path d="M595.00 65.00 L616.00 65.00 L616.00 85.70 L604.50 85.70 Z" fill="none" stroke="#111" stroke-width="0.6"/>
<line x1="598.00" y1="65.00" x2="598.00" y2="71.54" stroke="#111" stroke-width="0.5" />
<line x1="600.50" y1="65.00" x2="600.50" y2="76.98" stroke="#111" stroke-width="0.5" />
<line x1="603.00" y1="65.00" x2="603.00" y2="82.43" stroke="#111" stroke-width="0.5" />
<line x1="605.50" y1="65.00" x2="605.50" y2="85.70" stroke="#111" stroke-width="0.5" />
<line x1="608.00" y1="65.00" x2="608.00" y2="85.70" stroke="#111" stroke-width="0.5" />
<line x1="610.50" y1="65.00" x2="610.50" y2="85.70" stroke="#111" stroke-width="0.5" />
<line x1="613.00" y1="65.00" x2="613.00" y2="85.70" stroke="#111" stroke-width="0.5" />
<line x1="599.00" y1="76.50" x2="617.50" y2="76.50" stroke="#555" stroke-width="0.5" />
<line x1="588.60" y1="335.30" x2="627.50" y2="335.30" stroke="#000" stroke-width="1.4" />
<line x1="588.80" y1="335.30" x2="588.80" y2="373.30" stroke="#000" stroke-width="1.4" />
<line x1="588.60" y1="373.90" x2="596.80" y2="373.90" stroke="#111" stroke-width="0.6" />
<rect x="617.00" y="333.20" width="16.70" height="2.80" fill="#e6e6e6" stroke="#333" stroke-width="0.5"/>
<path d="M628.40 336.00 L628.40 343.50 L596.80 343.50 L596.80 374.00" fill="none" stroke="#333" stroke-width="0.7"/>
<line x1="588.60" y1="335.30" x2="596.80" y2="343.50" stroke="#111" stroke-width="0.7" />
<path d="M401.50 67.30 L377.30 67.30 L377.30 104.10 L391.40 104.10" fill="none" stroke="#111" stroke-width="0.7"/>
<line x1="389.00" y1="67.30" x2="389.00" y2="104.10" stroke="#333" stroke-width="0.55" />
<line x1="390.60" y1="67.30" x2="390.60" y2="104.10" stroke="#333" stroke-width="0.55" />
<line x1="401.50" y1="67.30" x2="409.00" y2="67.30" stroke="#111" stroke-width="0.6" />
<line x1="409.00" y1="69.70" x2="401.40" y2="69.70" stroke="#111" stroke-width="0.7" />
<line x1="409.00" y1="84.90" x2="401.40" y2="84.90" stroke="#111" stroke-width="0.7" />
<path d="M401.40 69.70 A7.60 7.60 0 0 0 409.00 77.30" fill="none" stroke="#111" stroke-width="0.7"/>
<path d="M401.40 84.90 A7.60 7.60 0 0 1 409.00 77.30" fill="none" stroke="#111" stroke-width="0.7"/>
<line x1="391.40" y1="104.10" x2="391.40" y2="95.70" stroke="#111" stroke-width="0.7" />
<line x1="408.20" y1="104.10" x2="408.20" y2="95.70" stroke="#111" stroke-width="0.7" />
<path d="M391.40 95.70 A8.40 8.40 0 0 1 399.80 104.10" fill="none" stroke="#111" stroke-width="0.7"/>
<path d="M408.20 95.70 A8.40 8.40 0 0 0 399.80 104.10" fill="none" stroke="#111" stroke-width="0.7"/>
<line x1="380.50" y1="105.90" x2="391.40" y2="105.90" stroke="#333" stroke-width="0.55" />
<path d="M377.30 96.30 L373.30 96.30 L373.30 187.90 L401.80 187.90 L401.80 199.30" fill="none" stroke="#111" stroke-width="0.7"/>
<line x1="373.30" y1="96.30" x2="377.30" y2="100.30" stroke="#111" stroke-width="0.7" />
<line x1="373.50" y1="187.90" x2="381.60" y2="179.30" stroke="#111" stroke-width="0.7" />
<line x1="380.50" y1="104.10" x2="380.50" y2="179.30" stroke="#333" stroke-width="0.55" />
<line x1="382.60" y1="105.90" x2="382.60" y2="179.30" stroke="#333" stroke-width="0.55" />
<line x1="381.60" y1="179.30" x2="409.00" y2="179.30" stroke="#333" stroke-width="0.55" />
<line x1="382.60" y1="181.20" x2="409.00" y2="181.20" stroke="#333" stroke-width="0.55" />
<line x1="381.60" y1="118.20" x2="381.60" y2="131.80" stroke="#000" stroke-width="1.6" />
<line x1="381.60" y1="152.60" x2="381.60" y2="167.30" stroke="#000" stroke-width="1.6" />
<path d="M377.30 233.50 L377.30 199.30 L409.80 199.30" fill="none" stroke="#111" stroke-width="0.7"/>
<line x1="377.30" y1="202.00" x2="409.50" y2="202.00" stroke="#777" stroke-width="0.5" />
<line x1="377.30" y1="204.20" x2="409.50" y2="204.20" stroke="#222" stroke-width="0.6" />
<path d="M400.20 175.30 A8.80 8.80 0 0 1 409.00 166.50" fill="none" stroke="#111" stroke-width="0.7"/>
<line x1="400.20" y1="175.30" x2="409.00" y2="175.30" stroke="#111" stroke-width="0.7" />
<path d="M400.50 216.40 A8.80 8.80 0 0 1 409.30 207.60" fill="none" stroke="#111" stroke-width="0.7"/>
<line x1="400.50" y1="216.40" x2="409.50" y2="216.40" stroke="#111" stroke-width="0.7" />
<rect x="357.50" y="234.00" width="20.30" height="38.80" fill="none" stroke="#111" stroke-width="0.7"/>
<line x1="358.60" y1="234.00" x2="358.60" y2="272.80" stroke="#555" stroke-width="0.5" />
<line x1="376.70" y1="234.00" x2="376.70" y2="272.80" stroke="#555" stroke-width="0.5" />
<line x1="357.50" y1="251.90" x2="377.80" y2="251.90" stroke="#111" stroke-width="0.6" />
<line x1="357.50" y1="254.00" x2="377.80" y2="254.00" stroke="#111" stroke-width="0.6" />
<rect x="360.80" y="238.80" width="9.80" height="10.50" fill="none" stroke="#111" stroke-width="0.6"/>
<line x1="360.80" y1="238.80" x2="370.60" y2="249.30" stroke="#111" stroke-width="0.5" />
<line x1="360.80" y1="249.30" x2="370.60" y2="238.80" stroke="#111" stroke-width="0.5" />
<rect x="372.70" y="241.00" width="2.70" height="5.90" fill="none" stroke="#333" stroke-width="0.5"/>
<rect x="360.80" y="256.60" width="9.80" height="11.00" fill="none" stroke="#111" stroke-width="0.6"/>
<line x1="360.80" y1="256.60" x2="370.60" y2="267.60" stroke="#111" stroke-width="0.5" />
<line x1="360.80" y1="267.60" x2="370.60" y2="256.60" stroke="#111" stroke-width="0.5" />
<rect x="372.70" y="258.80" width="2.70" height="6.40" fill="none" stroke="#333" stroke-width="0.5"/>
<line x1="378.60" y1="245.20" x2="405.40" y2="245.20" stroke="#222" stroke-width="0.5" />
<line x1="378.60" y1="247.45" x2="405.40" y2="247.45" stroke="#222" stroke-width="0.5" />
<line x1="378.60" y1="249.70" x2="405.40" y2="249.70" stroke="#222" stroke-width="0.5" />
<line x1="378.60" y1="251.95" x2="405.40" y2="251.95" stroke="#222" stroke-width="0.5" />
<line x1="378.60" y1="254.20" x2="405.40" y2="254.20" stroke="#222" stroke-width="0.5" />
<line x1="378.60" y1="256.45" x2="405.40" y2="256.45" stroke="#222" stroke-width="0.5" />
<line x1="378.60" y1="258.70" x2="405.40" y2="258.70" stroke="#222" stroke-width="0.5" />
<line x1="378.60" y1="260.95" x2="405.40" y2="260.95" stroke="#222" stroke-width="0.5" />
<line x1="378.60" y1="263.20" x2="405.40" y2="263.20" stroke="#222" stroke-width="0.5" />
<rect x="388.70" y="243.40" width="7.00" height="19.80" fill="#e6e6e6" stroke="#111" stroke-width="0.6"/>
<line x1="388.70" y1="227.00" x2="388.70" y2="243.40" stroke="#111" stroke-width="0.6" />
<rect x="382.70" y="263.20" width="16.30" height="6.80" fill="none" stroke="#111" stroke-width="0.6"/>
<line x1="390.80" y1="243.60" x2="405.40" y2="259.90" stroke="#111" stroke-width="0.6" />
<text x="383.00" y="243.60" font-size="2.4" text-anchor="middle" font-weight="normal" fill="#222" font-family='"Liberation Sans", "Noto Sans CJK SC", sans-serif' >上</text>
<text x="399.50" y="242.60" font-size="2.4" text-anchor="middle" font-weight="normal" fill="#222" font-family='"Liberation Sans", "Noto Sans CJK SC", sans-serif' >下</text>
<path d="M377.30 224.20 A9.30 9.30 0 0 1 386.60 233.50" fill="none" stroke="#111" stroke-width="0.7"/>
<line x1="388.70" y1="233.50" x2="388.70" y2="225.55" stroke="#111" stroke-width="0.7" />
<line x1="404.60" y1="233.50" x2="404.60" y2="225.55" stroke="#111" stroke-width="0.7" />
<path d="M388.70 225.55 A7.95 7.95 0 0 1 396.65 233.50" fill="none" stroke="#111" stroke-width="0.7"/>
<path d="M404.60 225.55 A7.95 7.95 0 0 0 396.65 233.50" fill="none" stroke="#111" stroke-width="0.7"/>
<path d="M357.20 231.60 L366.00 230.00 L377.30 225.50" fill="none" stroke="#111" stroke-width="0.6"/>
<line x1="298.40" y1="287.60" x2="358.20" y2="287.60" stroke="#cdcdcd" stroke-width="1.36" />
<line x1="298.40" y1="286.92" x2="358.20" y2="286.92" stroke="#3a3a3a" stroke-width="0.5" />
<line x1="298.40" y1="288.28" x2="358.20" y2="288.28" stroke="#3a3a3a" stroke-width="0.5" />
<line x1="358.20" y1="272.80" x2="358.20" y2="288.40" stroke="#111" stroke-width="0.7" />
<line x1="365.30" y1="273.50" x2="365.30" y2="292.60" stroke="#000" stroke-width="0.7" />
<line x1="366.60" y1="273.50" x2="366.60" y2="292.60" stroke="#000" stroke-width="0.7" />
<line x1="365.30" y1="292.30" x2="404.30" y2="292.30" stroke="#111" stroke-width="0.7" />
<line x1="371.20" y1="293.80" x2="404.30" y2="293.80" stroke="#444" stroke-width="0.5" />
<path d="M376.50 273.20 L376.50 280.50 L387.00 287.50 L387.00 292.30" fill="none" stroke="#111" stroke-width="0.7"/>
<path d="M334.30 295.60 L370.30 295.60 L370.30 292.30" fill="none" stroke="#222" stroke-width="0.6"/>
<path d="M334.30 297.40 L372.00 297.40 L372.00 293.80" fill="none" stroke="#222" stroke-width="0.6"/>
<path d="M358.20 273.40 L351.60 277.20 L358.20 281.00 Z" fill="none" stroke="#111" stroke-width="0.6"/>
<path d="M365.30 273.40 L359.60 277.20 L365.30 281.00 Z" fill="none" stroke="#111" stroke-width="0.6"/>
<rect x="421.40" y="89.00" width="13.30" height="18.50" fill="none" stroke="#222" stroke-width="0.6"/>
<text x="424.60" y="98.25" font-size="2.2" text-anchor="middle" font-weight="normal" fill="#333" font-family='"Liberation Sans", "Noto Sans CJK SC", sans-serif' transform="rotate(-90 424.60 98.25)" >无障碍车位</text>
<text x="430.50" y="98.25" font-size="3.0" text-anchor="middle" font-weight="bold" fill="#111" font-family='"Liberation Sans", "Noto Sans CJK SC", sans-serif' transform="rotate(-90 430.50 98.25)" >充电桩</text>
<rect x="425.00" y="107.50" width="9.50" height="7.19" fill="none" stroke="#222" stroke-width="0.6"/>
<text x="430.65" y="111.09" font-size="2.3" text-anchor="middle" font-weight="bold" fill="#222" font-family='"Liberation Sans", "Noto Sans CJK SC", sans-serif' transform="rotate(-90 430.65 111.09)" >车位</text>
<rect x="425.00" y="114.69" width="9.50" height="7.19" fill="none" stroke="#222" stroke-width="0.6"/>
<text x="430.65" y="118.28" font-size="2.3" text-anchor="middle" font-weight="bold" fill="#222" font-family='"Liberation Sans", "Noto Sans CJK SC", sans-serif' transform="rotate(-90 430.65 118.28)" >车位</text>
<rect x="425.00" y="121.88" width="9.50" height="7.19" fill="none" stroke="#222" stroke-width="0.6"/>
<text x="430.65" y="125.47" font-size="2.3" text-anchor="middle" font-weight="bold" fill="#222" font-family='"Liberation Sans", "Noto Sans CJK SC", sans-serif' transform="rotate(-90 430.65 125.47)" >车位</text>
<rect x="425.00" y="129.07" width="9.50" height="7.19" fill="none" stroke="#222" stroke-width="0.6"/>
<text x="430.65" y="132.66" font-size="2.3" text-anchor="middle" font-weight="bold" fill="#222" font-family='"Liberation Sans", "Noto Sans CJK SC", sans-serif' transform="rotate(-90 430.65 132.66)" >车位</text>
<rect x="425.00" y="136.26" width="9.50" height="7.19" fill="none" stroke="#222" stroke-width="0.6"/>
<text x="430.65" y="139.85" font-size="2.3" text-anchor="middle" font-weight="bold" fill="#222" font-family='"Liberation Sans", "Noto Sans CJK SC", sans-serif' transform="rotate(-90 430.65 139.85)" >车位</text>
<rect x="425.00" y="143.45" width="9.50" height="7.19" fill="none" stroke="#222" stroke-width="0.6"/>
<text x="430.65" y="147.04" font-size="2.3" text-anchor="middle" font-weight="bold" fill="#222" font-family='"Liberation Sans", "Noto Sans CJK SC", sans-serif' transform="rotate(-90 430.65 147.04)" >车位</text>
<rect x="425.00" y="150.64" width="9.50" height="7.19" fill="none" stroke="#222" stroke-width="0.6"/>
<text x="430.65" y="154.23" font-size="2.3" text-anchor="middle" font-weight="bold" fill="#222" font-family='"Liberation Sans", "Noto Sans CJK SC", sans-serif' transform="rotate(-90 430.65 154.23)" >车位</text>
<rect x="425.00" y="157.83" width="9.50" height="7.19" fill="none" stroke="#222" stroke-width="0.6"/>
<text x="430.65" y="161.42" font-size="2.3" text-anchor="middle" font-weight="bold" fill="#222" font-family='"Liberation Sans", "Noto Sans CJK SC", sans-serif' transform="rotate(-90 430.65 161.42)" >车位</text>
<rect x="425.00" y="165.02" width="9.50" height="7.19" fill="none" stroke="#222" stroke-width="0.6"/>
<text x="430.65" y="168.61" font-size="2.3" text-anchor="middle" font-weight="bold" fill="#222" font-family='"Liberation Sans", "Noto Sans CJK SC", sans-serif' transform="rotate(-90 430.65 168.61)" >车位</text>
<rect x="425.00" y="172.21" width="9.50" height="7.19" fill="none" stroke="#222" stroke-width="0.6"/>
<text x="430.65" y="175.80" font-size="2.3" text-anchor="middle" font-weight="bold" fill="#222" font-family='"Liberation Sans", "Noto Sans CJK SC", sans-serif' transform="rotate(-90 430.65 175.80)" >车位</text>
<rect x="425.00" y="179.40" width="9.50" height="7.19" fill="none" stroke="#222" stroke-width="0.6"/>
<text x="430.65" y="182.99" font-size="2.3" text-anchor="middle" font-weight="bold" fill="#222" font-family='"Liberation Sans", "Noto Sans CJK SC", sans-serif' transform="rotate(-90 430.65 182.99)" >车位</text>
<rect x="421.40" y="186.60" width="13.30" height="18.50" fill="none" stroke="#222" stroke-width="0.6"/>
<text x="424.60" y="195.85" font-size="2.2" text-anchor="middle" font-weight="normal" fill="#333" font-family='"Liberation Sans", "Noto Sans CJK SC", sans-serif' transform="rotate(-90 424.60 195.85)" >无障碍车位</text>
<text x="430.50" y="195.85" font-size="3.0" text-anchor="middle" font-weight="bold" fill="#111" font-family='"Liberation Sans", "Noto Sans CJK SC", sans-serif' transform="rotate(-90 430.50 195.85)" >充电桩</text>
<rect x="456.30" y="89.00" width="13.10" height="18.50" fill="none" stroke="#222" stroke-width="0.6"/>
<text x="466.20" y="98.25" font-size="2.2" text-anchor="middle" font-weight="normal" fill="#333" font-family='"Liberation Sans", "Noto Sans CJK SC", sans-serif' transform="rotate(-90 466.20 98.25)" >无障碍车位</text>
<text x="460.50" y="98.25" font-size="3.0" text-anchor="middle" font-weight="bold" fill="#111" font-family='"Liberation Sans", "Noto Sans CJK SC", sans-serif' transform="rotate(-90 460.50 98.25)" >充电桩</text>
<rect x="456.30" y="107.50" width="9.30" height="7.19" fill="none" stroke="#222" stroke-width="0.6"/>
<text x="461.85" y="111.09" font-size="2.3" text-anchor="middle" font-weight="bold" fill="#222" font-family='"Liberation Sans", "Noto Sans CJK SC", sans-serif' transform="rotate(-90 461.85 111.09)" >车位</text>
<rect x="456.30" y="114.69" width="9.30" height="7.19" fill="none" stroke="#222" stroke-width="0.6"/>
<text x="461.85" y="118.28" font-size="2.3" text-anchor="middle" font-weight="bold" fill="#222" font-family='"Liberation Sans", "Noto Sans CJK SC", sans-serif' transform="rotate(-90 461.85 118.28)" >车位</text>
<rect x="456.30" y="121.88" width="9.30" height="7.19" fill="none" stroke="#222" stroke-width="0.6"/>
<text x="461.85" y="125.47" font-size="2.3" text-anchor="middle" font-weight="bold" fill="#222" font-family='"Liberation Sans", "Noto Sans CJK SC", sans-serif' transform="rotate(-90 461.85 125.47)" >车位</text>
<rect x="456.30" y="129.07" width="9.30" height="7.19" fill="none" stroke="#222" stroke-width="0.6"/>
<text x="461.85" y="132.66" font-size="2.3" text-anchor="middle" font-weight="bold" fill="#222" font-family='"Liberation Sans", "Noto Sans CJK SC", sans-serif' transform="rotate(-90 461.85 132.66)" >车位</text>
<rect x="456.30" y="136.26" width="9.30" height="7.19" fill="none" stroke="#222" stroke-width="0.6"/>
<text x="461.85" y="139.85" font-size="2.3" text-anchor="middle" font-weight="bold" fill="#222" font-family='"Liberation Sans", "Noto Sans CJK SC", sans-serif' transform="rotate(-90 461.85 139.85)" >车位</text>
<rect x="456.30" y="143.45" width="9.30" height="7.19" fill="none" stroke="#222" stroke-width="0.6"/>
<text x="461.85" y="147.04" font-size="2.3" text-anchor="middle" font-weight="bold" fill="#222" font-family='"Liberation Sans", "Noto Sans CJK SC", sans-serif' transform="rotate(-90 461.85 147.04)" >车位</text>
<rect x="456.30" y="150.64" width="9.30" height="7.19" fill="none" stroke="#222" stroke-width="0.6"/>
<text x="461.85" y="154.23" font-size="2.3" text-anchor="middle" font-weight="bold" fill="#222" font-family='"Liberation Sans", "Noto Sans CJK SC", sans-serif' transform="rotate(-90 461.85 154.23)" >车位</text>
<rect x="456.30" y="157.83" width="9.30" height="7.19" fill="none" stroke="#222" stroke-width="0.6"/>
<text x="461.85" y="161.42" font-size="2.3" text-anchor="middle" font-weight="bold" fill="#222" font-family='"Liberation Sans", "Noto Sans CJK SC", sans-serif' transform="rotate(-90 461.85 161.42)" >车位</text>
<rect x="456.30" y="165.02" width="9.30" height="7.19" fill="none" stroke="#222" stroke-width="0.6"/>
<text x="461.85" y="168.61" font-size="2.3" text-anchor="middle" font-weight="bold" fill="#222" font-family='"Liberation Sans", "Noto Sans CJK SC", sans-serif' transform="rotate(-90 461.85 168.61)" >车位</text>
<rect x="456.30" y="172.21" width="9.30" height="7.19" fill="none" stroke="#222" stroke-width="0.6"/>
<text x="461.85" y="175.80" font-size="2.3" text-anchor="middle" font-weight="bold" fill="#222" font-family='"Liberation Sans", "Noto Sans CJK SC", sans-serif' transform="rotate(-90 461.85 175.80)" >车位</text>
<rect x="456.30" y="179.40" width="9.30" height="7.19" fill="none" stroke="#222" stroke-width="0.6"/>
<text x="461.85" y="182.99" font-size="2.3" text-anchor="middle" font-weight="bold" fill="#222" font-family='"Liberation Sans", "Noto Sans CJK SC", sans-serif' transform="rotate(-90 461.85 182.99)" >车位</text>
<rect x="456.30" y="186.60" width="13.10" height="18.50" fill="none" stroke="#222" stroke-width="0.6"/>
<text x="466.20" y="195.85" font-size="2.2" text-anchor="middle" font-weight="normal" fill="#333" font-family='"Liberation Sans", "Noto Sans CJK SC", sans-serif' transform="rotate(-90 466.20 195.85)" >无障碍车位</text>
<text x="460.50" y="195.85" font-size="3.0" text-anchor="middle" font-weight="bold" fill="#111" font-family='"Liberation Sans", "Noto Sans CJK SC", sans-serif' transform="rotate(-90 460.50 195.85)" >充电桩</text>
<rect x="489.90" y="70.00" width="7.60" height="7.40" fill="none" stroke="#222" stroke-width="0.6"/>
<rect x="489.90" y="77.40" width="7.60" height="7.40" fill="none" stroke="#222" stroke-width="0.6"/>
<text x="493.70" y="75.00" font-size="2.2" text-anchor="middle" font-weight="bold" fill="#333" font-family='"Liberation Sans", "Noto Sans CJK SC", sans-serif' >车位</text>
<text x="493.70" y="82.40" font-size="2.2" text-anchor="middle" font-weight="bold" fill="#333" font-family='"Liberation Sans", "Noto Sans CJK SC", sans-serif' >车位</text>
<rect x="489.90" y="84.80" width="14.10" height="7.24" fill="none" stroke="#222" stroke-width="0.6"/>
<text x="497.85" y="88.42" font-size="2.3" text-anchor="middle" font-weight="bold" fill="#222" font-family='"Liberation Sans", "Noto Sans CJK SC", sans-serif' transform="rotate(-90 497.85 88.42)" >车位</text>
<rect x="489.90" y="92.04" width="14.10" height="7.24" fill="none" stroke="#222" stroke-width="0.6"/>
<text x="497.85" y="95.66" font-size="2.3" text-anchor="middle" font-weight="bold" fill="#222" font-family='"Liberation Sans", "Noto Sans CJK SC", sans-serif' transform="rotate(-90 497.85 95.66)" >车位</text>
<rect x="489.90" y="99.28" width="14.10" height="7.24" fill="none" stroke="#222" stroke-width="0.6"/>
<text x="497.85" y="102.90" font-size="2.3" text-anchor="middle" font-weight="bold" fill="#222" font-family='"Liberation Sans", "Noto Sans CJK SC", sans-serif' transform="rotate(-90 497.85 102.90)" >车位</text>
<rect x="489.90" y="106.52" width="14.10" height="7.24" fill="none" stroke="#222" stroke-width="0.6"/>
<text x="497.85" y="110.14" font-size="2.3" text-anchor="middle" font-weight="bold" fill="#222" font-family='"Liberation Sans", "Noto Sans CJK SC", sans-serif' transform="rotate(-90 497.85 110.14)" >车位</text>
<rect x="489.90" y="113.76" width="14.10" height="7.24" fill="none" stroke="#222" stroke-width="0.6"/>
<text x="497.85" y="117.38" font-size="2.3" text-anchor="middle" font-weight="bold" fill="#222" font-family='"Liberation Sans", "Noto Sans CJK SC", sans-serif' transform="rotate(-90 497.85 117.38)" >车位</text>
<rect x="489.90" y="121.00" width="14.10" height="7.24" fill="none" stroke="#222" stroke-width="0.6"/>
<text x="497.85" y="124.62" font-size="2.3" text-anchor="middle" font-weight="bold" fill="#222" font-family='"Liberation Sans", "Noto Sans CJK SC", sans-serif' transform="rotate(-90 497.85 124.62)" >车位</text>
<rect x="489.90" y="128.24" width="14.10" height="7.24" fill="none" stroke="#222" stroke-width="0.6"/>
<text x="497.85" y="131.86" font-size="2.3" text-anchor="middle" font-weight="bold" fill="#222" font-family='"Liberation Sans", "Noto Sans CJK SC", sans-serif' transform="rotate(-90 497.85 131.86)" >车位</text>
<rect x="489.90" y="135.48" width="14.10" height="7.24" fill="none" stroke="#222" stroke-width="0.6"/>
<text x="497.85" y="139.10" font-size="2.3" text-anchor="middle" font-weight="bold" fill="#222" font-family='"Liberation Sans", "Noto Sans CJK SC", sans-serif' transform="rotate(-90 497.85 139.10)" >车位</text>
<rect x="489.90" y="142.72" width="14.10" height="7.24" fill="none" stroke="#222" stroke-width="0.6"/>
<text x="497.85" y="146.34" font-size="2.3" text-anchor="middle" font-weight="bold" fill="#222" font-family='"Liberation Sans", "Noto Sans CJK SC", sans-serif' transform="rotate(-90 497.85 146.34)" >车位</text>
<rect x="489.90" y="149.96" width="14.10" height="7.24" fill="none" stroke="#222" stroke-width="0.6"/>
<text x="497.85" y="153.58" font-size="2.3" text-anchor="middle" font-weight="bold" fill="#222" font-family='"Liberation Sans", "Noto Sans CJK SC", sans-serif' transform="rotate(-90 497.85 153.58)" >车位</text>
<rect x="489.90" y="157.20" width="14.10" height="7.24" fill="none" stroke="#222" stroke-width="0.6"/>
<text x="497.85" y="160.82" font-size="2.3" text-anchor="middle" font-weight="bold" fill="#222" font-family='"Liberation Sans", "Noto Sans CJK SC", sans-serif' transform="rotate(-90 497.85 160.82)" >车位</text>
<rect x="489.90" y="164.44" width="14.10" height="7.24" fill="none" stroke="#222" stroke-width="0.6"/>
<text x="497.85" y="168.06" font-size="2.3" text-anchor="middle" font-weight="bold" fill="#222" font-family='"Liberation Sans", "Noto Sans CJK SC", sans-serif' transform="rotate(-90 497.85 168.06)" >车位</text>
<rect x="489.90" y="171.68" width="14.10" height="7.24" fill="none" stroke="#222" stroke-width="0.6"/>
<text x="497.85" y="175.30" font-size="2.3" text-anchor="middle" font-weight="bold" fill="#222" font-family='"Liberation Sans", "Noto Sans CJK SC", sans-serif' transform="rotate(-90 497.85 175.30)" >车位</text>
<rect x="489.90" y="178.92" width="14.10" height="7.24" fill="none" stroke="#222" stroke-width="0.6"/>
<text x="497.85" y="182.54" font-size="2.3" text-anchor="middle" font-weight="bold" fill="#222" font-family='"Liberation Sans", "Noto Sans CJK SC", sans-serif' transform="rotate(-90 497.85 182.54)" >车位</text>
<rect x="489.90" y="186.16" width="14.10" height="7.24" fill="none" stroke="#222" stroke-width="0.6"/>
<text x="497.85" y="189.78" font-size="2.3" text-anchor="middle" font-weight="bold" fill="#222" font-family='"Liberation Sans", "Noto Sans CJK SC", sans-serif' transform="rotate(-90 497.85 189.78)" >车位</text>
<rect x="489.90" y="193.40" width="14.10" height="7.24" fill="none" stroke="#222" stroke-width="0.6"/>
<text x="497.85" y="197.02" font-size="2.3" text-anchor="middle" font-weight="bold" fill="#222" font-family='"Liberation Sans", "Noto Sans CJK SC", sans-serif' transform="rotate(-90 497.85 197.02)" >车位</text>
<rect x="489.90" y="200.64" width="14.10" height="7.24" fill="none" stroke="#222" stroke-width="0.6"/>
<text x="497.85" y="204.26" font-size="2.3" text-anchor="middle" font-weight="bold" fill="#222" font-family='"Liberation Sans", "Noto Sans CJK SC", sans-serif' transform="rotate(-90 497.85 204.26)" >车位</text>
<rect x="489.90" y="207.88" width="14.10" height="7.24" fill="none" stroke="#222" stroke-width="0.6"/>
<text x="497.85" y="211.50" font-size="2.3" text-anchor="middle" font-weight="bold" fill="#222" font-family='"Liberation Sans", "Noto Sans CJK SC", sans-serif' transform="rotate(-90 497.85 211.50)" >车位</text>
<rect x="390.60" y="112.90" width="5.60" height="58.40" fill="none" stroke="#222" stroke-width="0.6"/>
<text x="393.40" y="117.60" font-size="2.6" text-anchor="middle" font-weight="bold" fill="#222" font-family='"Liberation Sans", "Noto Sans CJK SC", sans-serif' >车</text>
<line x1="390.60" y1="120.00" x2="396.20" y2="120.00" stroke="#222" stroke-width="0.6" />
<text x="393.40" y="124.70" font-size="2.6" text-anchor="middle" font-weight="bold" fill="#222" font-family='"Liberation Sans", "Noto Sans CJK SC", sans-serif' >车</text>
<line x1="390.60" y1="127.10" x2="396.20" y2="127.10" stroke="#222" stroke-width="0.6" />
<text x="393.40" y="131.80" font-size="2.6" text-anchor="middle" font-weight="bold" fill="#222" font-family='"Liberation Sans", "Noto Sans CJK SC", sans-serif' >车</text>
<line x1="390.60" y1="134.20" x2="396.20" y2="134.20" stroke="#222" stroke-width="0.6" />
<text x="393.40" y="138.90" font-size="2.6" text-anchor="middle" font-weight="bold" fill="#222" font-family='"Liberation Sans", "Noto Sans CJK SC", sans-serif' >车</text>
<line x1="390.60" y1="141.30" x2="396.20" y2="141.30" stroke="#222" stroke-width="0.6" />
<text x="393.40" y="146.00" font-size="2.6" text-anchor="middle" font-weight="bold" fill="#222" font-family='"Liberation Sans", "Noto Sans CJK SC", sans-serif' >车</text>
<line x1="390.60" y1="148.40" x2="396.20" y2="148.40" stroke="#222" stroke-width="0.6" />
<text x="393.40" y="153.10" font-size="2.6" text-anchor="middle" font-weight="bold" fill="#222" font-family='"Liberation Sans", "Noto Sans CJK SC", sans-serif' >车</text>
<line x1="390.60" y1="155.50" x2="396.20" y2="155.50" stroke="#222" stroke-width="0.6" />
<text x="393.40" y="160.20" font-size="2.6" text-anchor="middle" font-weight="bold" fill="#222" font-family='"Liberation Sans", "Noto Sans CJK SC", sans-serif' >车</text>
<line x1="390.60" y1="163.50" x2="396.20" y2="163.50" stroke="#222" stroke-width="0.6" />
<text x="393.40" y="168.20" font-size="2.6" text-anchor="middle" font-weight="bold" fill="#222" font-family='"Liberation Sans", "Noto Sans CJK SC", sans-serif' >车</text>
<text x="133.00" y="318.00" font-size="7.6" text-anchor="middle" font-weight="normal" fill="#111" font-family='"Liberation Sans", "Noto Sans CJK SC", sans-serif' letter-spacing="-0.25" >119</text>
<text x="133.00" y="321.50" font-size="2.1" text-anchor="middle" font-weight="900" fill="#000" font-family='"Liberation Sans", "Noto Sans CJK SC", sans-serif' >商铺</text>
<text x="133.00" y="327.70" font-size="3.2" text-anchor="middle" font-weight="900" fill="#000" font-family='"Liberation Sans", "Noto Sans CJK SC", sans-serif' textLength="10.5" lengthAdjust="spacingAndGlyphs">面积78.2㎡</text>
<text x="170.00" y="318.00" font-size="7.6" text-anchor="middle" font-weight="normal" fill="#111" font-family='"Liberation Sans", "Noto Sans CJK SC", sans-serif' letter-spacing="-0.25" >118</text>
<text x="170.00" y="321.50" font-size="2.1" text-anchor="middle" font-weight="900" fill="#000" font-family='"Liberation Sans", "Noto Sans CJK SC", sans-serif' >商铺</text>
<text x="170.00" y="327.70" font-size="3.2" text-anchor="middle" font-weight="900" fill="#000" font-family='"Liberation Sans", "Noto Sans CJK SC", sans-serif' textLength="12.8" lengthAdjust="spacingAndGlyphs">面积78.2㎡</text>
<text x="207.00" y="318.00" font-size="7.6" text-anchor="middle" font-weight="normal" fill="#111" font-family='"Liberation Sans", "Noto Sans CJK SC", sans-serif' letter-spacing="-0.25" >117</text>
<text x="207.00" y="321.50" font-size="2.1" text-anchor="middle" font-weight="900" fill="#000" font-family='"Liberation Sans", "Noto Sans CJK SC", sans-serif' >商铺</text>
<text x="207.00" y="327.70" font-size="3.2" text-anchor="middle" font-weight="900" fill="#000" font-family='"Liberation Sans", "Noto Sans CJK SC", sans-serif' textLength="10.5" lengthAdjust="spacingAndGlyphs">面积78.2㎡</text>
<text x="244.00" y="318.00" font-size="7.6" text-anchor="middle" font-weight="normal" fill="#111" font-family='"Liberation Sans", "Noto Sans CJK SC", sans-serif' letter-spacing="-0.25" >116</text>
<text x="244.00" y="321.50" font-size="2.1" text-anchor="middle" font-weight="900" fill="#000" font-family='"Liberation Sans", "Noto Sans CJK SC", sans-serif' >商铺</text>
<text x="244.00" y="327.70" font-size="3.2" text-anchor="middle" font-weight="900" fill="#000" font-family='"Liberation Sans", "Noto Sans CJK SC", sans-serif' textLength="12.8" lengthAdjust="spacingAndGlyphs">面积78.2㎡</text>
<text x="280.50" y="318.00" font-size="7.6" text-anchor="middle" font-weight="normal" fill="#111" font-family='"Liberation Sans", "Noto Sans CJK SC", sans-serif' letter-spacing="-0.25" >115</text>
<text x="280.50" y="321.50" font-size="2.1" text-anchor="middle" font-weight="900" fill="#000" font-family='"Liberation Sans", "Noto Sans CJK SC", sans-serif' >商铺</text>
<text x="280.50" y="327.70" font-size="3.2" text-anchor="middle" font-weight="900" fill="#000" font-family='"Liberation Sans", "Noto Sans CJK SC", sans-serif' textLength="12.8" lengthAdjust="spacingAndGlyphs">面积78.2㎡</text>
<text x="317.50" y="318.00" font-size="7.6" text-anchor="middle" font-weight="normal" fill="#111" font-family='"Liberation Sans", "Noto Sans CJK SC", sans-serif' letter-spacing="-0.25" >114</text>
<text x="317.50" y="321.50" font-size="2.1" text-anchor="middle" font-weight="900" fill="#000" font-family='"Liberation Sans", "Noto Sans CJK SC", sans-serif' >商铺</text>
<text x="317.50" y="327.70" font-size="3.2" text-anchor="middle" font-weight="900" fill="#000" font-family='"Liberation Sans", "Noto Sans CJK SC", sans-serif' textLength="12.8" lengthAdjust="spacingAndGlyphs">面积78.2㎡</text>
<text x="371.00" y="318.00" font-size="7.6" text-anchor="middle" font-weight="normal" fill="#111" font-family='"Liberation Sans", "Noto Sans CJK SC", sans-serif' letter-spacing="-0.25" >113</text>
<text x="371.00" y="321.50" font-size="2.1" text-anchor="middle" font-weight="900" fill="#000" font-family='"Liberation Sans", "Noto Sans CJK SC", sans-serif' >商铺</text>
<text x="371.00" y="327.70" font-size="3.2" text-anchor="middle" font-weight="900" fill="#000" font-family='"Liberation Sans", "Noto Sans CJK SC", sans-serif' textLength="12.8" lengthAdjust="spacingAndGlyphs">面积78.2㎡</text>
<text x="424.00" y="318.00" font-size="7.6" text-anchor="middle" font-weight="normal" fill="#111" font-family='"Liberation Sans", "Noto Sans CJK SC", sans-serif' letter-spacing="-0.25" >112</text>
<text x="424.00" y="321.50" font-size="2.1" text-anchor="middle" font-weight="900" fill="#000" font-family='"Liberation Sans", "Noto Sans CJK SC", sans-serif' >商铺</text>
<text x="424.00" y="327.70" font-size="3.2" text-anchor="middle" font-weight="900" fill="#000" font-family='"Liberation Sans", "Noto Sans CJK SC", sans-serif' textLength="12.8" lengthAdjust="spacingAndGlyphs">面积78.2㎡</text>
<text x="461.00" y="318.00" font-size="7.6" text-anchor="middle" font-weight="normal" fill="#111" font-family='"Liberation Sans", "Noto Sans CJK SC", sans-serif' letter-spacing="-0.25" >111</text>
<text x="461.00" y="321.50" font-size="2.1" text-anchor="middle" font-weight="900" fill="#000" font-family='"Liberation Sans", "Noto Sans CJK SC", sans-serif' >商铺</text>
<text x="461.00" y="327.70" font-size="3.2" text-anchor="middle" font-weight="900" fill="#000" font-family='"Liberation Sans", "Noto Sans CJK SC", sans-serif' textLength="12.8" lengthAdjust="spacingAndGlyphs">面积78.2㎡</text>
<text x="498.00" y="318.00" font-size="7.6" text-anchor="middle" font-weight="normal" fill="#111" font-family='"Liberation Sans", "Noto Sans CJK SC", sans-serif' letter-spacing="-0.25" >110</text>
<text x="498.00" y="321.50" font-size="2.1" text-anchor="middle" font-weight="900" fill="#000" font-family='"Liberation Sans", "Noto Sans CJK SC", sans-serif' >商铺</text>
<text x="498.00" y="327.70" font-size="3.2" text-anchor="middle" font-weight="900" fill="#000" font-family='"Liberation Sans", "Noto Sans CJK SC", sans-serif' textLength="12.8" lengthAdjust="spacingAndGlyphs">面积78.2㎡</text>
<text x="532.50" y="318.00" font-size="7.6" text-anchor="middle" font-weight="normal" fill="#111" font-family='"Liberation Sans", "Noto Sans CJK SC", sans-serif' letter-spacing="-0.25" >109</text>
<text x="532.50" y="321.50" font-size="2.1" text-anchor="middle" font-weight="900" fill="#000" font-family='"Liberation Sans", "Noto Sans CJK SC", sans-serif' >商铺</text>
<text x="532.50" y="327.70" font-size="3.2" text-anchor="middle" font-weight="900" fill="#000" font-family='"Liberation Sans", "Noto Sans CJK SC", sans-serif' textLength="12.8" lengthAdjust="spacingAndGlyphs">面积78.2㎡</text>
<text x="585.00" y="318.00" font-size="7.6" text-anchor="middle" font-weight="normal" fill="#111" font-family='"Liberation Sans", "Noto Sans CJK SC", sans-serif' letter-spacing="-0.25" >108</text>
<text x="585.00" y="321.50" font-size="2.1" text-anchor="middle" font-weight="900" fill="#000" font-family='"Liberation Sans", "Noto Sans CJK SC", sans-serif' >商铺</text>
<text x="585.00" y="327.70" font-size="3.2" text-anchor="middle" font-weight="900" fill="#000" font-family='"Liberation Sans", "Noto Sans CJK SC", sans-serif' textLength="12.8" lengthAdjust="spacingAndGlyphs">面积78.2㎡</text>
<text x="584.50" y="99.50" font-size="7.6" text-anchor="middle" font-weight="normal" fill="#111" font-family='"Liberation Sans", "Noto Sans CJK SC", sans-serif' letter-spacing="-0.25" >101</text>
<text x="584.50" y="103.00" font-size="2.1" text-anchor="middle" font-weight="900" fill="#000" font-family='"Liberation Sans", "Noto Sans CJK SC", sans-serif' >商铺</text>
<text x="584.50" y="109.20" font-size="3.2" text-anchor="middle" font-weight="900" fill="#000" font-family='"Liberation Sans", "Noto Sans CJK SC", sans-serif' textLength="12.8" lengthAdjust="spacingAndGlyphs">面积78.2㎡</text>
<text x="584.50" y="135.00" font-size="7.6" text-anchor="middle" font-weight="normal" fill="#111" font-family='"Liberation Sans", "Noto Sans CJK SC", sans-serif' letter-spacing="-0.25" >102</text>
<text x="584.50" y="138.50" font-size="2.1" text-anchor="middle" font-weight="900" fill="#000" font-family='"Liberation Sans", "Noto Sans CJK SC", sans-serif' >商铺</text>
<text x="584.50" y="144.70" font-size="3.2" text-anchor="middle" font-weight="900" fill="#000" font-family='"Liberation Sans", "Noto Sans CJK SC", sans-serif' textLength="12.8" lengthAdjust="spacingAndGlyphs">面积78.2㎡</text>
<text x="584.50" y="162.50" font-size="7.6" text-anchor="middle" font-weight="normal" fill="#111" font-family='"Liberation Sans", "Noto Sans CJK SC", sans-serif' letter-spacing="-0.25" >103</text>
<text x="584.50" y="166.00" font-size="2.1" text-anchor="middle" font-weight="900" fill="#000" font-family='"Liberation Sans", "Noto Sans CJK SC", sans-serif' >商铺</text>
<text x="584.50" y="172.20" font-size="3.2" text-anchor="middle" font-weight="900" fill="#000" font-family='"Liberation Sans", "Noto Sans CJK SC", sans-serif' textLength="12.8" lengthAdjust="spacingAndGlyphs">面积78.2㎡</text>
<text x="584.50" y="191.30" font-size="7.6" text-anchor="middle" font-weight="normal" fill="#111" font-family='"Liberation Sans", "Noto Sans CJK SC", sans-serif' letter-spacing="-0.25" >104</text>
<text x="584.50" y="194.80" font-size="2.1" text-anchor="middle" font-weight="900" fill="#000" font-family='"Liberation Sans", "Noto Sans CJK SC", sans-serif' >商铺</text>
<text x="584.50" y="201.00" font-size="3.2" text-anchor="middle" font-weight="900" fill="#000" font-family='"Liberation Sans", "Noto Sans CJK SC", sans-serif' textLength="12.8" lengthAdjust="spacingAndGlyphs">面积78.2㎡</text>
<text x="584.50" y="219.50" font-size="7.6" text-anchor="middle" font-weight="normal" fill="#111" font-family='"Liberation Sans", "Noto Sans CJK SC", sans-serif' letter-spacing="-0.25" >105</text>
<text x="584.50" y="223.00" font-size="2.1" text-anchor="middle" font-weight="900" fill="#000" font-family='"Liberation Sans", "Noto Sans CJK SC", sans-serif' >商铺</text>
<text x="584.50" y="229.20" font-size="3.2" text-anchor="middle" font-weight="900" fill="#000" font-family='"Liberation Sans", "Noto Sans CJK SC", sans-serif' textLength="12.8" lengthAdjust="spacingAndGlyphs">面积78.2㎡</text>
<text x="584.50" y="247.00" font-size="7.6" text-anchor="middle" font-weight="normal" fill="#111" font-family='"Liberation Sans", "Noto Sans CJK SC", sans-serif' letter-spacing="-0.25" >106</text>
<text x="584.50" y="250.50" font-size="2.1" text-anchor="middle" font-weight="900" fill="#000" font-family='"Liberation Sans", "Noto Sans CJK SC", sans-serif' >商铺</text>
<text x="584.50" y="256.70" font-size="3.2" text-anchor="middle" font-weight="900" fill="#000" font-family='"Liberation Sans", "Noto Sans CJK SC", sans-serif' textLength="12.8" lengthAdjust="spacingAndGlyphs">面积78.2㎡</text>
<text x="584.50" y="276.20" font-size="7.6" text-anchor="middle" font-weight="normal" fill="#111" font-family='"Liberation Sans", "Noto Sans CJK SC", sans-serif' letter-spacing="-0.25" >107</text>
<text x="584.50" y="279.70" font-size="2.1" text-anchor="middle" font-weight="900" fill="#000" font-family='"Liberation Sans", "Noto Sans CJK SC", sans-serif' >商铺</text>
<text x="584.50" y="285.90" font-size="3.2" text-anchor="middle" font-weight="900" fill="#000" font-family='"Liberation Sans", "Noto Sans CJK SC", sans-serif' textLength="12.8" lengthAdjust="spacingAndGlyphs">面积78.2㎡</text>
<text x="334.50" y="261.00" font-size="3.3" text-anchor="middle" font-weight="900" fill="#000" font-family='"Liberation Sans", "Noto Sans CJK SC", sans-serif' >大堂</text>
<text x="351.50" y="293.20" font-size="2.6" text-anchor="middle" font-weight="bold" fill="#000" font-family='"Liberation Sans", "Noto Sans CJK SC", sans-serif' >消控室</text>
<text x="373.30" y="284.80" font-size="3.4" text-anchor="middle" font-weight="bold" fill="#000" font-family='"Liberation Sans", "Noto Sans CJK SC", sans-serif' transform="rotate(-90 373.30 284.80)" >电井</text>
<text x="476.50" y="132.60" font-size="2.9" text-anchor="middle" font-weight="900" fill="#000" font-family='"Liberation Sans", "Noto Sans CJK SC", sans-serif' >停车库</text>
<text x="478.60" y="137.20" font-size="2.9" text-anchor="middle" font-weight="900" fill="#000" font-family='"Liberation Sans", "Noto Sans CJK SC", sans-serif' >(含二层停车位)</text>
<defs><linearGradient id="bg1" x1="0" y1="0" x2="1" y2="0"><stop offset="0" stop-color="#121322"/><stop offset="0.45" stop-color="#131424"/><stop offset="0.7" stop-color="#23253c"/><stop offset="1" stop-color="#3c3f61"/></linearGradient></defs>
<rect x="26.2" y="455.65" width="686.6" height="37.45" fill="url(#bg1)"/>
</svg>

<div class="title"><span class="lat">S</span><span class="lat">1</span>一层平面图</div>
</body></html>
